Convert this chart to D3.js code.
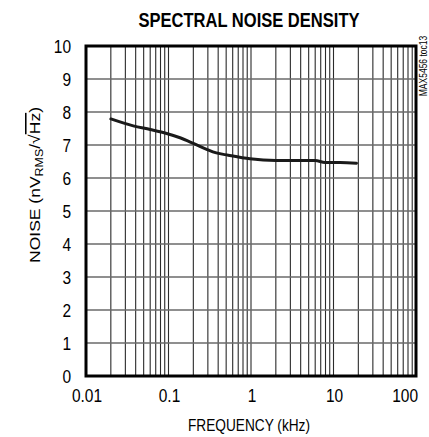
<!DOCTYPE html>
<html>
<head>
<meta charset="utf-8">
<script src="https://cdn.jsdelivr.net/npm/d3@7"></script>
<style>
  body { margin: 0; background: #fff; }
  text { font-family: "Liberation Sans", Arial, sans-serif; }
</style>
</head>
<body>
<svg id="chart" width="429" height="437"></svg>
<script>
// curve (kHz, nV/rtHz)
const freq  = [0.02, 0.0374, 0.06, 0.095, 0.138, 0.2, 0.29, 0.38, 0.53, 0.97, 2.0, 6.0, 7.9, 12, 19];
const noise = [7.79, 7.58, 7.47, 7.35, 7.22, 7.05, 6.87, 6.76, 6.69, 6.58, 6.53, 6.53, 6.47, 6.47, 6.45];

const xTicks = [0.01, 0.1, 1, 10, 100];
const xTickLabels = ["0.01", "0.1", "1", "10", "100"];
const yTicks = [0, 1, 2, 3, 4, 5, 6, 7, 8, 9, 10];

const svg = d3.select("#chart");
const margin = {top: 46, right: 13, bottom: 61, left: 86},
  width = 429 - margin.left - margin.right,
  height = 437 - margin.top - margin.bottom;

const g = svg.append("g")
  .attr("transform", "translate(" + margin.left + "," + margin.top + ")");

const x = d3.scaleLog().domain([0.01, 100]).range([0, width]);
const y = d3.scaleLinear().domain([0, 10]).range([height, 0]);

// squeeze a text horizontally to look like a narrow face
function narrow(sel, k) {
  sel.each(function() {
    const len = this.getComputedTextLength();
    d3.select(this)
      .attr("textLength", len * k)
      .attr("lengthAdjust", "spacingAndGlyphs");
  });
}

// minor + major vertical grid
let vLines = [];
for (let d = 0.01; d < 100; d *= 10) {
  for (let k = 1; k <= 9; k++) vLines.push(+(d * k).toPrecision(3));
}
g.selectAll(".vgrid")
  .data(vLines)
  .enter()
    .append("line")
    .attr("x1", d => x(d))
    .attr("x2", d => x(d))
    .attr("y1", 0)
    .attr("y2", height)
    .attr("stroke", "#2a2a2a")
    .attr("stroke-width", 1.1);

g.selectAll(".hgrid")
  .data(yTicks)
  .enter()
    .append("line")
    .attr("x1", 0)
    .attr("x2", width)
    .attr("y1", d => y(d))
    .attr("y2", d => y(d))
    .attr("stroke", "#6a6a6a")
    .attr("stroke-width", 1.3);

// frame
g.append("rect")
  .attr("width", width)
  .attr("height", height)
  .attr("fill", "none")
  .attr("stroke", "#000")
  .attr("stroke-width", 3);

// the curve
const line = d3.line()
  .x((d, i) => x(freq[i]))
  .y(d => y(d))
  .curve(d3.curveMonotoneX);

g.append("path")
  .attr("d", line(noise))
  .attr("fill", "none")
  .attr("stroke", "#1a1a1a")
  .attr("stroke-width", 3)
  .attr("stroke-linecap", "round");

// tick labels
g.selectAll(".xlab")
  .data(xTicks)
  .enter()
    .append("text")
    .attr("x", (d, i) => i === xTicks.length - 1 ? x(d) + 2 : x(d) + 1)
    .attr("y", height + 26)
    .attr("text-anchor", (d, i) => i === xTicks.length - 1 ? "end" : "middle")
    .style("font-size", "18px")
    .text((d, i) => xTickLabels[i])
    .call(narrow, 0.86);

g.selectAll(".ylab")
  .data(yTicks)
  .enter()
    .append("text")
    .attr("x", -15)
    .attr("y", d => y(d) + 6.5)
    .attr("text-anchor", "end")
    .style("font-size", "18px")
    .text(d => d)
    .call(narrow, 0.86);

// titles
svg.append("text")
  .attr("x", 249)
  .attr("y", 27)
  .attr("text-anchor", "middle")
  .style("font-size", "19.5px")
  .style("font-weight", "bold")
  .attr("textLength", 221)
  .attr("lengthAdjust", "spacingAndGlyphs")
  .text("SPECTRAL NOISE DENSITY");

svg.append("text")
  .attr("x", 249)
  .attr("y", 431)
  .attr("text-anchor", "middle")
  .style("font-size", "17px")
  .attr("textLength", 122)
  .attr("lengthAdjust", "spacingAndGlyphs")
  .text("FREQUENCY (kHz)");

const yTitle = svg.append("text")
  .attr("transform", "translate(40,185) rotate(-90)")
  .attr("text-anchor", "middle")
  .style("font-size", "15.5px")
  .attr("textLength", 156)
  .attr("lengthAdjust", "spacingAndGlyphs");
yTitle.append("tspan").text("NOISE (nV");
yTitle.append("tspan").attr("dy", 3).style("font-size", "11px").text("RMS");
yTitle.append("tspan").attr("dy", -3).text("/\u221A");
yTitle.append("tspan").style("text-decoration", "overline").text("Hz");
yTitle.append("tspan").text(")");

svg.append("text")
  .attr("transform", "translate(427,66) rotate(-90)")
  .attr("text-anchor", "middle")
  .style("font-size", "10px")
  .text("MAX5456 toc13")
  .call(narrow, 0.85);
</script>
</body>
</html>
